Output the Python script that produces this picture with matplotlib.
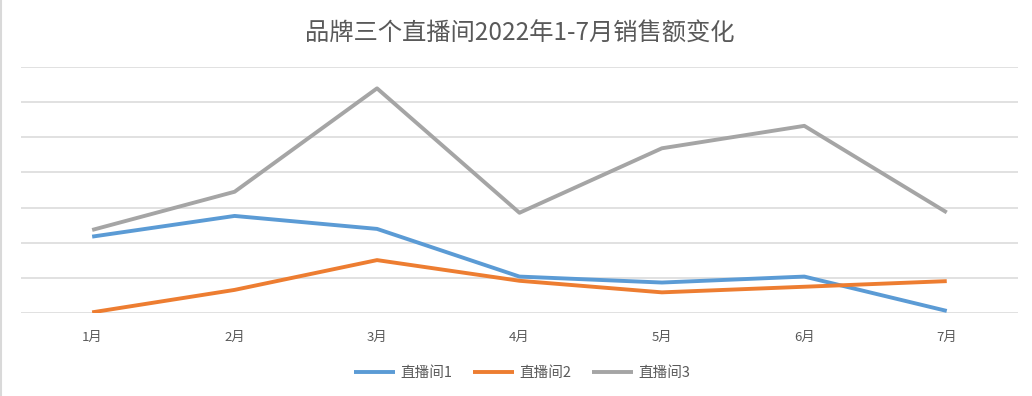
import matplotlib.pyplot as plt
from matplotlib.lines import Line2D

plt.rcParams['font.family'] = ['Noto Sans CJK SC', 'DejaVu Sans']

months = ['1月', '2月', '3月', '4月', '5月', '6月', '7月']
room1 = [21.7, 27.6, 23.9, 10.3, 8.6, 10.3, 0.5]
room2 = [0.1, 6.5, 15.0, 9.1, 5.8, 7.4, 9.0]
room3 = [23.6, 34.5, 64.0, 28.5, 46.9, 53.3, 28.6]
names = ['直播间1', '直播间2', '直播间3']
colors = ['#5B9BD5', '#ED7D31', '#A5A5A5']

fig = plt.figure(figsize=(10.32, 3.96), dpi=100)
ax = fig.add_axes([0.0203, 0.2104, 0.9661, 0.6196])

x = range(len(months))
for vals, name, c in zip([room1, room2, room3], names, colors):
    ax.plot(x, vals, color=c, linewidth=2.8, label=name, solid_capstyle='butt')

ax.set_xlim(-0.5, 6.5)
ax.set_ylim(0, 70)
ax.set_yticks(range(0, 71, 10))
ax.set_yticklabels([])
ax.yaxis.grid(True, color='#D9D9D9', linewidth=1.1)
ax.set_axisbelow(True)
ax.tick_params(axis='both', length=0)
ax.set_xticks(list(x))
ax.set_xticklabels(months, fontsize=9.5, color='#595959')
ax.tick_params(axis='x', pad=13)
for s in ax.spines.values():
    s.set_visible(False)

fig.text(0.504, 0.915, '品牌三个直播间2022年1-7月销售额变化', ha='center', va='center',
         fontsize=17.5, color='#595959')

fig.legend(loc='center', bbox_to_anchor=(0.506, 0.058), ncol=3, frameon=False,
           fontsize=10.5, labelcolor='#595959', handlelength=2.8, handletextpad=0.4,
           columnspacing=1.4)

fig.add_artist(Line2D([0.001, 0.001], [0, 1], color='#D9D9D9', linewidth=1.5,
                      transform=fig.transFigure))

fig.savefig('out.png', dpi=100, facecolor='white')
